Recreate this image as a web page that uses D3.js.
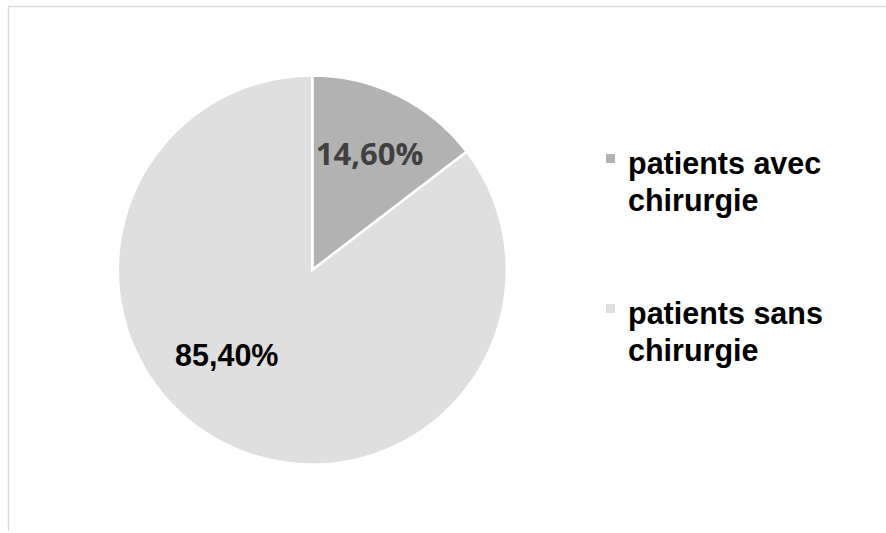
<!DOCTYPE html>
<html>
<head>
<meta charset="utf-8">
<script src="https://cdn.jsdelivr.net/npm/d3@7"></script>
<style>
  html, body { margin: 0; padding: 0; background: #ffffff; }
  svg { display: block; }
</style>
</head>
<body>
<svg id="chart" width="886" height="533"></svg>
<script>
const categories = ["patients avec chirurgie", "patients sans chirurgie"];
const legendLines = [["patients avec", "chirurgie"], ["patients sans", "chirurgie"]];
const values = [14.60, 85.40];
const valueLabels = ["14,60%", "85,40%"];
const colors = ["#b2b2b2", "#dfdfdf"];

const svg = d3.select("#chart");

// chart area frame (clipped at right/bottom)
svg.append("path")
  .attr("d", "M8.5,531 V6.5 H886")
  .attr("fill", "none")
  .attr("stroke", "#d9d9d9")
  .attr("stroke-width", 1.5);

const cx = 312.3, cy = 270, R = 194.5;
const g = svg.append("g").attr("transform", `translate(${cx},${cy})`);

const pie = d3.pie().sort(null).value(d => d)(values);
const arc = d3.arc().innerRadius(0).outerRadius(R);

g.selectAll("path.slice")
  .data(pie)
  .join("path")
  .attr("class", "slice")
  .attr("d", arc)
  .attr("fill", (d, i) => colors[i])
  .attr("stroke", "#ffffff")
  .attr("stroke-width", 2.5)
  .attr("stroke-linejoin", "miter");

// data labels
const labelStyles = [
  { font: "'Open Sans', Lato, sans-serif", size: 31, fill: "#404040", angleShift: 0, rf: 0.665 },
  { font: "'Liberation Sans', Arial, sans-serif", size: 30.5, fill: "#000000", angleShift: 0.33, rf: 0.62 }
];
g.selectAll("text.lbl")
  .data(pie)
  .join("text")
  .attr("class", "lbl")
  .each(function(d, i) {
    const s = labelStyles[i];
    const a = (d.startAngle + d.endAngle) / 2 + s.angleShift;
    const r = R * s.rf;
    d3.select(this)
      .attr("x", r * Math.sin(a))
      .attr("y", -r * Math.cos(a))
      .attr("dy", "0.35em")
      .attr("text-anchor", "middle")
      .attr("font-family", s.font)
      .attr("font-size", s.size)
      .attr("font-weight", "bold")
      .attr("fill", s.fill)
      .text(valueLabels[i]);
  });

// legend
const legend = svg.append("g").attr("transform", "translate(606,154)");
const items = legend.selectAll("g.item")
  .data(categories)
  .join("g")
  .attr("class", "item")
  .attr("transform", (d, i) => `translate(0,${i * 150})`);

items.append("rect")
  .attr("x", 0).attr("y", 0)
  .attr("width", 9).attr("height", 9)
  .attr("fill", (d, i) => colors[i]);

items.append("text")
  .attr("font-family", "'Liberation Sans', Arial, sans-serif")
  .attr("font-size", 30.5)
  .attr("font-weight", "bold")
  .attr("fill", "#000000")
  .selectAll("tspan")
  .data((d, i) => legendLines[i])
  .join("tspan")
  .attr("x", 22)
  .attr("y", (d, j) => 20 + j * 37)
  .text(d => d);
</script>
</body>
</html>
